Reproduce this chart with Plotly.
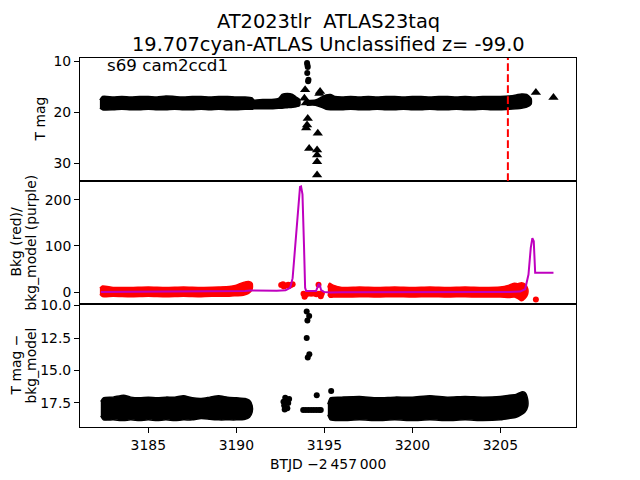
import plotly.graph_objects as go

# ---------------- data ----------------
# Top panel: dense T-mag band (edges of the point cloud)
top_band1_x = [3182.25, 3182.4, 3183.0, 3183.5, 3184.0, 3184.5, 3185.0, 3185.5, 3186.0, 3186.5,
               3187.0, 3187.5, 3188.0, 3188.5, 3189.0, 3189.5, 3190.0, 3190.5, 3190.9, 3191.0,
               3191.5, 3192.0, 3192.4, 3192.6, 3192.9, 3193.2, 3193.4, 3193.6]
top_band1_up = [17.6, 16.9, 17.0, 16.9, 17.0, 16.9, 16.9, 17.0, 16.8, 16.9, 17.0, 16.9, 16.9, 17.0,
                16.9, 16.9, 17.0, 17.0, 17.2, 17.6, 17.5, 17.5, 17.3, 16.5, 16.3, 16.5, 17.0, 17.5]
top_band1_lo = [19.2, 19.5, 19.5, 19.4, 19.5, 19.5, 19.4, 19.5, 19.5, 19.4, 19.5, 19.5, 19.4, 19.5,
                19.4, 19.5, 19.5, 19.4, 19.4, 19.3, 19.3, 19.3, 19.2, 19.2, 19.1, 19.0, 18.9, 18.7]

top_band2_x = [3194.0, 3194.5, 3194.85, 3195.1, 3195.35, 3195.6, 3196.0, 3196.5, 3197.0, 3197.5,
               3198.0, 3198.5, 3199.0, 3199.5, 3200.0, 3200.5, 3201.0, 3201.5, 3202.0, 3202.5,
               3203.0, 3203.5, 3204.0, 3204.5, 3205.0, 3205.5, 3205.9, 3206.2, 3206.5, 3206.75]
top_band2_up = [17.7, 17.6, 17.0, 16.6, 16.5, 16.9, 17.0, 16.9, 17.0, 16.9, 17.0, 16.9, 16.9, 17.0,
                16.9, 16.9, 17.0, 16.9, 16.9, 17.0, 16.9, 17.0, 16.9, 16.9, 16.9, 16.8, 16.6, 16.4,
                16.5, 17.3]
top_band2_lo = [18.6, 18.6, 19.0, 19.4, 19.5, 19.5, 19.5, 19.4, 19.5, 19.5, 19.4, 19.5, 19.5, 19.4,
                19.5, 19.5, 19.4, 19.5, 19.5, 19.4, 19.5, 19.5, 19.4, 19.5, 19.5, 19.4, 19.3, 19.2,
                19.0, 18.4]

# Top panel: bright detections (circles) and upper limits (triangles)
top_circ_x = [3194.02, 3194.04, 3194.06, 3194.03, 3194.10, 3194.08]
top_circ_y = [10.3, 10.7, 11.1, 12.3, 13.6, 13.9]
top_tri_x = [3193.91, 3193.87, 3193.95, 3194.72, 3194.76, 3194.06, 3194.02, 3193.97, 3194.63,
             3194.14, 3194.59, 3194.59, 3194.59, 3194.59, 3207.02, 3208.02]
top_tri_y = [15.6, 17.25, 18.2, 16.3, 15.9, 21.2, 22.5, 23.1, 24.1, 27.1, 27.4, 28.4, 29.7, 32.3,
             16.1, 17.1]
discovery_x = 3205.43

# Middle panel: background (red) point cloud edges + isolated points
bkg_band1_x = [3182.25, 3182.4, 3183.0, 3184.0, 3185.0, 3186.0, 3187.0, 3188.0, 3189.0, 3189.6,
               3190.0, 3190.4, 3190.7, 3190.9]
bkg_band1_up = [8, 13, 10, 10, 11, 10, 11, 10, 11, 12, 15, 21, 23, 19]
bkg_band1_lo = [-5, -10, -9, -10, -9, -10, -9, -10, -9, -9, -8, -7, -3, 6]
bkg_band2_x = [3195.2, 3195.3, 3195.5, 3196.0, 3197.0, 3198.0, 3199.0, 3200.0, 3201.0, 3202.0,
               3203.0, 3204.0, 3205.0, 3205.5, 3205.8, 3206.0, 3206.2, 3206.4, 3206.55]
bkg_band2_up = [10, 19, 15, 10, 11, 10, 11, 10, 11, 10, 11, 10, 11, 15, 19, 18, 20, 17, 8]
bkg_band2_lo = [-5, -11, -11, -11, -10, -11, -10, -11, -10, -11, -10, -11, -11, -12, -11, -14,
                -19, -14, -5]
bkg_pts_x = [3192.55, 3192.65, 3192.8, 3192.95, 3193.1, 3193.2, 3192.7, 3193.0,
             3193.82, 3193.88, 3193.95, 3194.1, 3194.25, 3194.4, 3194.55, 3194.7, 3194.8, 3194.86,
             3194.67, 3207.02]
bkg_pts_y = [15, 17, 14, 16, 15, 17, 12, 13,
             -4, -10, -6, -3, -4, -3, -5, -4, -9, -3,
             16, -16]

# Middle panel: background model (purple line)
model_x = [3182.3, 3184.0, 3186.0, 3188.0, 3189.5, 3190.5, 3190.8, 3191.5, 3192.3, 3192.8, 3193.06,
           3193.2, 3193.34, 3193.53, 3193.62, 3193.68, 3193.76, 3193.85, 3193.91, 3193.97, 3194.53,
           3194.6, 3194.69, 3194.76, 3194.82, 3195.0, 3195.33, 3196.0, 3198.0, 3200.0, 3202.0,
           3204.0, 3205.5, 3206.13, 3206.41, 3206.6, 3206.73, 3206.82, 3206.9, 3206.98, 3208.02]
model_y = [0, 0.5, 1, 1, 1.5, 2, 3.5, 3, 2.5, 4, 9,
           30, 96, 205, 228, 229, 212, 96, 9, 2, 2,
           9, 18, 13, 4, 0, -1, -0.5, 0, 0, 0,
           0, 0, 1, 6, 38, 96, 117, 110, 42, 42]

# Bottom panel: T mag - bkg_model point cloud edges + isolated points
sub_band1_x = [3182.3, 3182.45, 3183.0, 3183.6, 3184.0, 3184.5, 3185.0, 3185.5, 3186.0, 3186.5,
               3187.0, 3187.5, 3188.0, 3188.5, 3189.0, 3189.5, 3190.0, 3190.5, 3190.75, 3190.9]
sub_band1_up = [17.4, 17.1, 17.05, 16.9, 17.05, 17.1, 17.05, 17.1, 17.05, 17.05, 16.95, 17.1, 17.15,
                17.05, 16.95, 17.05, 17.1, 17.15, 17.3, 17.7]
sub_band1_lo = [18.5, 18.8, 18.8, 18.85, 18.8, 18.85, 18.8, 18.85, 18.8, 18.85, 18.8, 18.8, 18.7,
                18.75, 18.8, 18.8, 18.8, 18.75, 18.6, 18.2]
sub_band2_x = [3195.2, 3195.35, 3196.0, 3197.0, 3198.0, 3199.0, 3200.0, 3201.0, 3202.0, 3203.0,
               3204.0, 3205.0, 3205.5, 3205.9, 3206.2, 3206.4, 3206.55]
sub_band2_up = [17.6, 17.1, 17.05, 17.0, 17.1, 17.05, 17.05, 16.95, 17.05, 17.0, 17.05, 17.0, 16.9,
                16.85, 16.65, 16.7, 17.2]
sub_band2_lo = [18.4, 18.8, 18.85, 18.8, 18.85, 18.8, 18.85, 18.8, 18.85, 18.8, 18.85, 18.8, 18.7,
                18.6, 18.4, 18.2, 17.8]
sub_pts_x = [3194.0, 3194.14, 3194.04, 3194.0, 3194.15, 3194.06,
             3192.68, 3192.72, 3192.78, 3192.85, 3192.9, 3192.95, 3193.0, 3192.75,
             3193.8, 3193.95, 3194.1, 3194.25, 3194.4, 3194.55, 3194.7, 3194.8,
             3194.57, 3195.39]
sub_pts_y = [10.45, 10.8, 11.15, 12.5, 13.75, 14.0,
             17.4, 17.7, 17.1, 17.3, 17.9, 17.5, 17.2, 18.0,
             18.05, 18.05, 18.05, 18.05, 18.05, 18.05, 18.05, 18.05,
             16.9, 16.57]

x_ticks = [3185, 3190, 3195, 3200, 3205]
top_ticks = [10, 20, 30]
mid_ticks = [0, 100, 200]
bot_ticks = [10.0, 12.5, 15.0, 17.5]

# ---------------- figure ----------------
FONT = "DejaVu Sans"
BLACK = "#000000"
RED = "#ff0000"
PURPLE = "#bf00bf"

fig = go.Figure()


def band(x, up, lo, color, xa, ya):
    fig.add_trace(go.Scatter(
        x=list(x) + list(x)[::-1], y=list(up) + list(lo)[::-1],
        mode="lines", fill="toself", fillcolor=color,
        line=dict(color=color, width=1.5, shape="spline", smoothing=0.6),
        xaxis=xa, yaxis=ya, hoverinfo="skip", showlegend=False))


band(top_band1_x, top_band1_up, top_band1_lo, BLACK, "x", "y")
band(top_band2_x, top_band2_up, top_band2_lo, BLACK, "x", "y")
fig.add_trace(go.Scatter(x=top_circ_x, y=top_circ_y, mode="markers",
                         marker=dict(color=BLACK, size=6), xaxis="x", yaxis="y", showlegend=False))
fig.add_trace(go.Scatter(x=top_tri_x, y=top_tri_y, mode="markers",
                         marker=dict(color=BLACK, size=9, symbol="triangle-up"),
                         xaxis="x", yaxis="y", showlegend=False))

band(bkg_band1_x, bkg_band1_up, bkg_band1_lo, RED, "x2", "y2")
band(bkg_band2_x, bkg_band2_up, bkg_band2_lo, RED, "x2", "y2")
fig.add_trace(go.Scatter(x=bkg_pts_x, y=bkg_pts_y, mode="markers",
                         marker=dict(color=RED, size=6), xaxis="x2", yaxis="y2", showlegend=False))
fig.add_trace(go.Scatter(x=model_x, y=model_y, mode="lines",
                         line=dict(color=PURPLE, width=2), xaxis="x2", yaxis="y2", showlegend=False))

band(sub_band1_x, sub_band1_up, sub_band1_lo, BLACK, "x3", "y3")
band(sub_band2_x, sub_band2_up, sub_band2_lo, BLACK, "x3", "y3")
fig.add_trace(go.Scatter(x=sub_pts_x, y=sub_pts_y, mode="markers",
                         marker=dict(color=BLACK, size=6), xaxis="x3", yaxis="y3", showlegend=False))

fig.add_shape(type="line", xref="x", yref="y domain", x0=discovery_x, x1=discovery_x, y0=0, y1=1,
              line=dict(color=RED, width=2, dash="7.7px,3.3px"))

axis_common = dict(showline=True, mirror=True, linecolor=BLACK, linewidth=1, showgrid=False,
                   zeroline=False, tickcolor=BLACK, tickwidth=1, ticklen=5,
                   tickfont=dict(family=FONT, size=13.9, color=BLACK))
XR = [3181.12, 3209.3]

# the page body adds an 8px offset, so the figure is 632x472 with margins chosen
# to place the plot area at x 80..576, y 58..427 of the window
fig.update_layout(
    width=632, height=472, autosize=False,
    margin=dict(l=72, r=64, t=50, b=53),
    paper_bgcolor="white", plot_bgcolor="white",
    font=dict(family=FONT, color=BLACK),
    xaxis=dict(domain=[0, 1], anchor="y", range=XR, ticks="", showticklabels=False, **axis_common),
    xaxis2=dict(domain=[0, 1], anchor="y2", range=XR, ticks="", showticklabels=False, **axis_common),
    xaxis3=dict(domain=[0, 1], anchor="y3", range=XR, ticks="outside", tickvals=x_ticks,
                ticktext=[str(v) for v in x_ticks], **axis_common),
    yaxis=dict(domain=[2 / 3, 1], anchor="x", range=[33.5, 9.34], ticks="outside",
               tickvals=top_ticks, ticktext=[str(v) for v in top_ticks], **axis_common),
    yaxis2=dict(domain=[1 / 3, 2 / 3], anchor="x2", range=[-26, 241], ticks="outside",
                tickvals=mid_ticks, ticktext=[str(v) for v in mid_ticks], **axis_common),
    yaxis3=dict(domain=[0, 1 / 3], anchor="x3", range=[19.35, 9.88], ticks="outside",
                tickvals=bot_ticks, ticktext=["%.1f" % v for v in bot_ticks], **axis_common),
)


def ann(text, xpx, ypx, size, angle=0, xanchor="center"):
    fig.add_annotation(text=text, xref="paper", yref="paper",
                       x=(xpx - 80) / 496, y=(427 - ypx) / 369,
                       xanchor=xanchor, yanchor="middle", showarrow=False, textangle=angle,
                       font=dict(family=FONT, size=size, color=BLACK))


ann("AT2023tlr  ATLAS23taq", 328, 21, 19.4)
ann("19.707cyan-ATLAS Unclassified z= -99.0", 328, 44, 19.4)
ann("s69 cam2ccd1", 105, 65, 16.7, xanchor="left")
ann("T mag", 40, 119.5, 13.9, angle=-90)
ann("Bkg (red)/", 15, 242.5, 13.9, angle=-90)
ann("bkg_model (purple)", 30, 242.5, 13.9, angle=-90)
ann("T mag \u2212", 15, 365.5, 13.9, angle=-90)
ann("bkg_model", 30, 365.5, 13.9, angle=-90)
ann("BTJD \u22122\u2009457\u2009000", 328, 464, 13.9)

fig.write_html("out.html")
